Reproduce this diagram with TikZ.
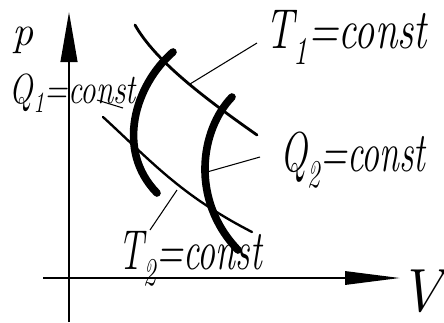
\documentclass[tikz,border=0pt]{standalone}
\usetikzlibrary{arrows.meta}

% narrow hand-lettered look
\newcommand{\narrowtxt}[2][0.7]{\scalebox{#1}[1]{#2}}

\begin{document}
\begin{tikzpicture}[
    x=0.03cm, y=-0.03cm,
    axis/.style={line width=1.8pt,-{Triangle[length=1.5cm,width=0.5cm]}},
    adiabat/.style={line width=6.5pt,line cap=round},
    isotherm/.style={line width=2.4pt,line cap=round},
    leader/.style={line width=0.9pt},
    lbl/.style={font=\fontsize{48}{48}\selectfont\itshape,inner sep=0pt},
  ]
  \useasboundingbox (0,0) rectangle (444,322);

  % Axes p and V
  \draw[axis] (69,322) -- (69,12);
  \draw[axis,-{Triangle[length=1.65cm,width=0.4cm]}] (43,278) -- (400,278);
  \node[lbl,font=\fontsize{36}{36}\selectfont\itshape] (plbl) at (23,40) {p};
  \node[lbl,font=\fontsize{52}{52}\selectfont\itshape] (vlbl) at (421,291) {V};

  % The two isotherms
  \draw[isotherm] (135,25) .. controls (155,60) and (200,95) .. (257,135);
  \draw[isotherm,line width=2pt] (103,117) .. controls (150,160) and (180,195) .. (252,232);

  % The two adiabats (thick)
  \draw[adiabat] (173,52) .. controls (135,85) and (115,150) .. (157,193);
  \draw[adiabat] (232,97) .. controls (200,130) and (190,200) .. (238,250);

  % Points where the leaders touch the curves
  \coordinate (t1pt) at (190,84);
  \coordinate (q1pt) at (123,108);
  \coordinate (q2pt) at (207,172);
  \coordinate (t2pt) at (177,190);

  % Labels
  \node[lbl] (t1lbl) at (346,37) {\narrowtxt[0.72]{T\textsubscript{1}=const}};
  \node[lbl] (q2lbl) at (353,160) {\narrowtxt[0.64]{Q\textsubscript{2}=const}};
  \node[lbl,font=\fontsize{36}{36}\selectfont\itshape] (q1lbl) at (73,93)
    {\narrowtxt[0.74]{Q\textsubscript{1}=const}};
  \node[lbl] (t2lbl) at (190,259) {\narrowtxt[0.64]{T\textsubscript{2}=const}};

  % Leaders
  \coordinate (t1end) at (257,43);
  \coordinate (q1end) at (97,100);
  \coordinate (q2end) at (260,157);
  \coordinate (t2end) at (150,230);
  \draw[leader] (t1pt) -- (t1end);
  \draw[leader] (q1pt) -- (q1end);
  \draw[leader] (q2pt) -- (q2end);
  \draw[leader] (t2pt) -- (t2end);
\end{tikzpicture}
\end{document}
